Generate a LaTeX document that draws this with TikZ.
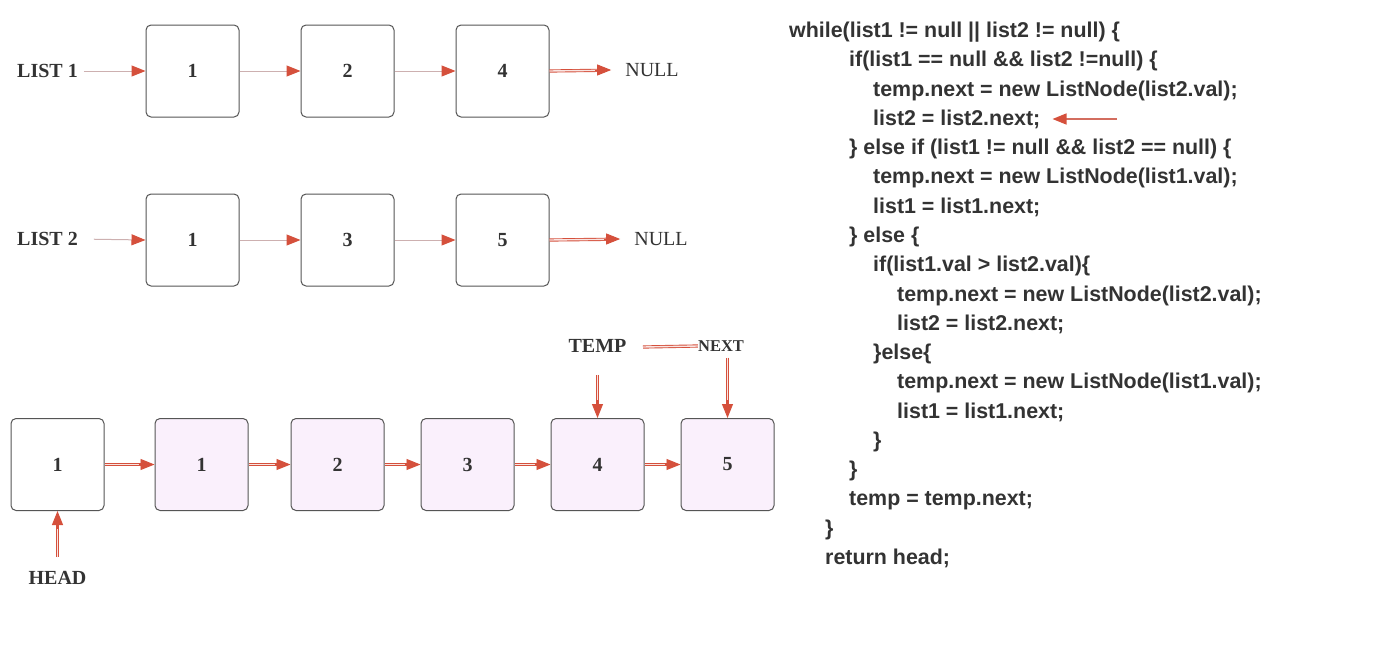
\documentclass[tikz,border=0pt]{standalone}
\usepackage{fontspec}
\setmainfont{Liberation Serif}
\newfontfamily\codefont{Liberation Sans}
\usetikzlibrary{arrows.meta}
\definecolor{txt}{HTML}{333333}
\definecolor{arr}{HTML}{D5503C}
\definecolor{thinc}{HTML}{CDB0B0}
\definecolor{boxfill}{HTML}{FAF0FC}
\definecolor{boxline}{HTML}{555555}
\tikzset{
  lbox/.style={draw=boxline, line width=1pt, rounded corners=5pt, minimum width=93pt, minimum height=92pt, inner sep=0pt, text=txt, font=\fontsize{20}{24}\selectfont\bfseries},
  pbox/.style={lbox, fill=boxfill},
  wbox/.style={lbox, fill=white},
  lbl/.style={text=txt, inner sep=0pt, font=\fontsize{20}{24}\selectfont\bfseries},
  nul/.style={text=txt, inner sep=0pt, font=\fontsize{20}{24}\selectfont},
  thinarr/.style={draw=thinc, line width=1pt, -{Triangle[length=14pt,width=11pt,color=arr]}},
  dbl/.style={draw=arr, double=white!85!arr, double distance=1.4pt, line width=0.9pt},
  tipline/.style={draw=arr, line width=0.9pt, -{Triangle[length=14pt,width=11pt]}},
  code/.style={anchor=west, inner sep=0pt, text=txt, text height=15pt, text depth=4pt, font=\codefont\fontsize{21.4}{26}\selectfont\bfseries}
}
\begin{document}
\begin{tikzpicture}[x=1pt,y=-1pt]
\useasboundingbox[fill=white] (0,0) rectangle (1400,648);
% List 1
\node[lbl] (l1) at (47.5,71) {LIST 1};
\node[wbox] (a1) at (192.5,71) {1};
\node[wbox] (a2) at (347.5,71) {2};
\node[wbox] (a3) at (502.5,71) {4};
\node[nul] (n1) at (652,70) {NULL};
\draw[thinarr, shorten <=6pt] (l1.east) -- (a1.west);
\draw[thinarr] (a1.east) -- (a2.west);
\draw[thinarr] (a2.east) -- (a3.west);
\draw[dbl, shorten >=28pt] (a3.east) -- (n1.west);
\draw[tipline, shorten >=14pt] ([xshift=-30pt]n1.west) -- (n1.west);
% List 2
\node[lbl] (l2) at (47.5,239) {LIST 2};
\node[wbox] (b1) at (192.5,240) {1};
\node[wbox] (b2) at (347.5,240) {3};
\node[wbox] (b3) at (502.5,240) {5};
\node[nul] (n2) at (661,239) {NULL};
\draw[thinarr, shorten <=16pt] (l2.east) -- (b1.west);
\draw[thinarr] (b1.east) -- (b2.west);
\draw[thinarr] (b2.east) -- (b3.west);
\draw[dbl, shorten >=28pt] (b3.east) -- (n2.west);
\draw[tipline, shorten >=14pt] ([xshift=-30pt]n2.west) -- (n2.west);
% Merged list
\node[wbox] (c0) at (57.5,464.5) {1};
\node[pbox] (c1) at (201.5,464.5) {1};
\node[pbox] (c2) at (337.5,464.5) {2};
\node[pbox] (c3) at (467.5,464.5) {3};
\node[pbox] (c4) at (597.5,464.5) {4};
\node[pbox] (c5) at (727.5,464.5) {5};
\foreach \p/\q in {c0/c1,c1/c2,c2/c3,c3/c4,c4/c5}{
  \draw[dbl, shorten >=12pt] (\p.east) -- (\q.west);
  \draw[tipline] ([xshift=-16pt]\q.west) -- (\q.west);
}
\node[lbl] (head) at (57.5,578) {HEAD};
\draw[dbl, shorten <=14pt, shorten >=12pt] (head.north) -- (c0.south);
\draw[tipline] ([yshift=-18pt]c0.south) -- (c0.south);
\node[lbl] (temp) at (597.5,346) {TEMP};
\draw[dbl, shorten <=22pt, shorten >=12pt] (temp.south) -- (c4.north);
\draw[tipline] ([yshift=18pt]c4.north) -- (c4.north);
\node[lbl, font=\fontsize{16.5}{20}\selectfont\bfseries] (next) at (721,346) {NEXT};
\coordinate (tl) at (643,347);
\draw[dbl] (tl) -- (next.west);
\draw[dbl, shorten <=6pt, shorten >=12pt] (next.south -| c5.north) -- (c5.north);
\draw[tipline] ([yshift=18pt]c5.north) -- (c5.north);
% Code
\def\lh{29.28}
\node[code] (k0)  at (789,32+0*\lh) {while(list1 != null || list2 != null) \{};
\node[code] (k1)  at (849,32+1*\lh) {if(list1 == null \&\& list2 !=null) \{};
\node[code] (k2)  at (873,32+2*\lh) {temp.next = new ListNode(list2.val);};
\node[code] (k3)  at (873,32+3*\lh) {list2 = list2.next;};
\node[code] (k4)  at (849,32+4*\lh) {\} else if (list1 != null \&\& list2 == null) \{};
\node[code] (k5)  at (873,32+5*\lh) {temp.next = new ListNode(list1.val);};
\node[code] (k6)  at (873,32+6*\lh) {list1 = list1.next;};
\node[code] (k7)  at (849,32+7*\lh) {\} else \{};
\node[code] (k8)  at (873,32+8*\lh) {if(list1.val > list2.val)\{};
\node[code] (k9)  at (897,32+9*\lh) {temp.next = new ListNode(list2.val);};
\node[code] (k10) at (897,32+10*\lh) {list2 = list2.next;};
\node[code] (k11) at (873,32+11*\lh) {\}else\{};
\node[code] (k12) at (897,32+12*\lh) {temp.next = new ListNode(list1.val);};
\node[code] (k13) at (897,32+13*\lh) {list1 = list1.next;};
\node[code] (k14) at (873,32+14*\lh) {\}};
\node[code] (k15) at (849,32+15*\lh) {\}};
\node[code] (k16) at (849,32+16*\lh) {temp = temp.next;};
\node[code] (k17) at (825,32+17*\lh) {\}};
\node[code] (k18) at (825,32+18*\lh) {return head;};
\coordinate (ca) at (1117,119);
\draw[thinarr, draw=arr!70!thinc, line width=1.5pt] (ca) -- ([xshift=12pt]k3.east |- ca);
\end{tikzpicture}
\end{document}
